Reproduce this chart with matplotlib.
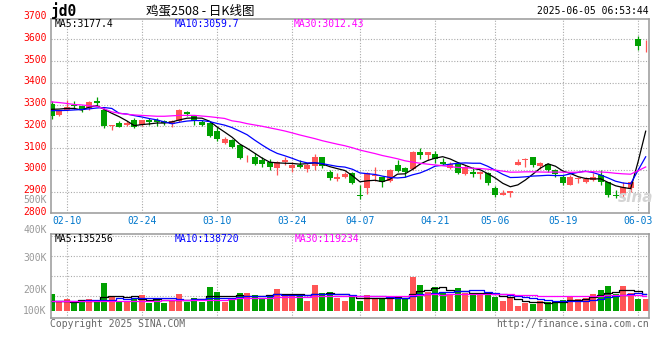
import numpy as np
import pandas as pd
import matplotlib
matplotlib.use("Agg")
import matplotlib.pyplot as plt
from matplotlib.transforms import blended_transform_factory

# ---- data (jd2508) ----
opens = [3304, 3250, 3273, 3299, 3292, 3284, 3315, 3277, 3200, 3215,
         3204, 3227, 3207, 3230, 3227, 3226, 3212, 3223, 3266, 3246,
         3220, 3215, 3177, 3123, 3135, 3112, 3052, 3061, 3046, 3038,
         3006, 3034, 3006, 3023, 3003, 3018, 3058, 2992, 2957, 2969,
         2985, 2880, 2916, 2972, 2965, 2949, 3020, 3008, 3003, 3080,
         3066, 3074, 3038, 3008, 3026, 2980, 2992, 2980, 2985, 2916,
         2885, 2893, 3023, 3046, 3057, 3018, 3026, 3000, 2965, 2928,
         2956, 2946, 2954, 2977, 2943, 2885, 2882, 2916, 3600, 3576]
highs = [3315, 3273, 3322, 3318, 3294, 3315, 3333, 3284, 3207, 3223,
         3222, 3238, 3231, 3238, 3236, 3230, 3230, 3278, 3272, 3250,
         3230, 3222, 3195, 3149, 3141, 3115, 3066, 3077, 3057, 3049,
         3040, 3061, 3038, 3046, 3031, 3074, 3061, 3000, 2985, 2992,
         2992, 2930, 2992, 3011, 2969, 3005, 3043, 3015, 3085, 3100,
         3082, 3088, 3054, 3038, 3034, 3020, 3011, 2995, 2992, 2926,
         2905, 2904, 3049, 3054, 3058, 3035, 3031, 3005, 2977, 2977,
         2969, 2969, 2985, 2997, 2946, 2908, 2946, 2949, 3615, 3597]
lows = [3235, 3246, 3268, 3281, 3266, 3277, 3292, 3192, 3184, 3197,
        3200, 3192, 3200, 3207, 3203, 3207, 3197, 3218, 3246, 3205,
        3200, 3150, 3131, 3118, 3100, 3051, 3034, 3020, 3015, 3000,
        2974, 3023, 2988, 3008, 2988, 3000, 3008, 2951, 2949, 2962,
        2934, 2867, 2888, 2949, 2919, 2946, 2988, 2965, 3000, 3049,
        3046, 3031, 3020, 3005, 2980, 2977, 2965, 2958, 2928, 2877,
        2883, 2873, 3022, 3015, 3015, 3005, 2992, 2969, 2928, 2928,
        2939, 2939, 2949, 2931, 2873, 2869, 2877, 2900, 3551, 3543]
closes = [3246, 3269, 3290, 3292, 3277, 3310, 3306, 3203, 3203, 3197,
          3215, 3197, 3227, 3218, 3218, 3214, 3223, 3273, 3257, 3224,
          3208, 3154, 3141, 3141, 3104, 3054, 3054, 3028, 3028, 3011,
          3038, 3046, 3023, 3011, 3023, 3058, 3018, 2962, 2965, 2980,
          2939, 2878, 2985, 2977, 2946, 2997, 2995, 2992, 3080, 3066,
          3080, 3049, 3026, 3028, 2985, 3015, 2980, 2992, 2939, 2885,
          2893, 2901, 3035, 3051, 3020, 3031, 3000, 2980, 2939, 2965,
          2958, 2958, 2969, 2943, 2882, 2880, 2919, 2942, 3569, 3577]
# volume in K, on the panel's grid scale
volumes = [208, 173, 183, 165, 170, 183, 173, 263, 192, 170,
           173, 190, 203, 165, 178, 165, 178, 208, 170, 190,
           170, 245, 220, 170, 178, 215, 215, 203, 190, 198,
           235, 210, 198, 203, 173, 253, 215, 218, 187, 173,
           198, 173, 203, 183, 183, 190, 198, 183, 295, 253,
           220, 243, 212, 203, 238, 212, 203, 203, 220, 195,
           173, 187, 150, 165, 158, 173, 170, 165, 178, 200,
           183, 187, 208, 228, 248, 208, 248, 215, 185, 185]

# moving average values before the window is full
ma5_head = [3278, 3279, 3282, 3282]
ma10_head = [3272, 3272, 3273, 3275, 3277, 3280, 3284, 3286, 3282]
ma30_head = [3312, 3309, 3305, 3300, 3298, 3294, 3292, 3280, 3266, 3260,
             3255, 3252, 3250, 3248, 3246, 3246, 3248, 3250, 3250, 3250,
             3247, 3244, 3240, 3236, 3225, 3220, 3212, 3206, 3200]
vma5_head = [175, 175, 173, 170]
vma10_head = [173, 173, 173, 173, 173, 176, 177, 178, 178]
vma30_head = [173, 173, 173, 173, 173, 173, 173, 173, 173, 173,
              173, 175, 175, 175, 175, 177, 177, 177, 177, 177,
              180, 180, 180, 180, 185, 186, 187, 188, 189]

date_idx = [2, 12, 22, 32, 41, 51, 59, 68, 78]
date_lbl = ["02-10", "02-24", "03-10", "03-24", "04-07", "04-21", "05-06", "05-19", "06-03"]
price_ticks = [2800, 2900, 3000, 3100, 3200, 3300, 3400, 3500, 3600, 3700]

W, H = 660, 360
RED = "#ff5555"
GREEN = "#00a000"
GRID = "#aaaaaa"
FRAME = "#999999"
MONO = "DejaVu Sans Mono"


def ma(vals, n, head):
    full = pd.Series(vals, dtype=float).rolling(n).mean().to_numpy()
    full[:len(head)] = head
    return full


def fx(x):
    return x / W


def fy(y):
    return 1 - y / H


x = np.arange(len(closes))
o = np.array(opens, float)
c = np.array(closes, float)
up = c >= o
cols = np.where(up, RED, GREEN)

fig = plt.figure(figsize=(W / 100, H / 100), dpi=100)
ax = fig.add_axes([fx(50.7), fy(213.3), fx(649.3) - fx(50.7), fy(19) - fy(213.3)])
ax2 = fig.add_axes([fx(50.7), fy(318.3), fx(649.3) - fx(50.7), fy(234.3) - fy(318.3)])

for a in (ax, ax2):
    a.set_xlim(-0.12, 79.48)
    a.set_xticks([])
    a.set_yticks([])
    for s in a.spines.values():
        s.set_color(FRAME)
        s.set_linewidth(1.1)
    for d in date_idx:
        a.axvline(d, color=GRID, lw=0.8, ls=(0, (1, 1.5)), zorder=0)

# price panel
ax.set_ylim(2800, 3693)
for p in price_ticks[1:-1]:
    ax.axhline(p, color=GRID, lw=0.8, ls=(0, (1, 1.5)), zorder=0)
ax.vlines(x, lows, highs, colors=cols, lw=0.9, zorder=2)
ax.bar(x, np.maximum(np.abs(c - o), 4), bottom=np.minimum(o, c), width=0.8,
       color=cols, linewidth=0, zorder=3)
ax.plot(x, ma(closes, 5, ma5_head), color="black", lw=0.9, zorder=4)
ax.plot(x, ma(closes, 10, ma10_head), color="#0000ff", lw=0.9, zorder=4)
ax.plot(x, ma(closes, 30, ma30_head), color="#ff00ff", lw=0.9, zorder=4)

# volume panel
vbase = 123.3
ax2.set_ylim(86.7, 506.7)
for v in [200, 300, 400, 500]:
    ax2.axhline(v, color=GRID, lw=0.8, ls=(0, (1, 1.5)), zorder=0)
vv = np.array(volumes, float)
ax2.bar(x, vv - vbase, bottom=vbase, width=0.8, color=cols, linewidth=0, zorder=2)
ax2.plot(x, ma(volumes, 5, vma5_head), color="black", lw=0.9, drawstyle="steps-mid", zorder=3)
ax2.plot(x, ma(volumes, 10, vma10_head), color="#0000ff", lw=0.9, drawstyle="steps-mid", zorder=3)
ax2.plot(x, ma(volumes, 30, vma30_head), color="#ff00ff", lw=0.9, drawstyle="steps-mid", zorder=3)

# axis labels
tr = blended_transform_factory(fig.transFigure, ax.transData)
for p in price_ticks:
    ax.text(fx(46.5), p + 6, str(p), transform=tr, ha="right", va="center",
            color="#ff0000", fontsize=7, family=MONO, clip_on=False)
for lbl, yy in [("500K", 200), ("400K", 230), ("300K", 258), ("200K", 290), ("100K", 311)]:
    fig.text(fx(46.5), fy(yy), lbl, ha="right", va="center", color=FRAME,
             fontsize=7, family=MONO)
trd = blended_transform_factory(ax.transData, fig.transFigure)
for d, lbl in zip(date_idx, date_lbl):
    ax.text(d, fy(221.5), lbl, transform=trd, ha="center", va="center",
            color="#0077cc", fontsize=7, family=MONO, clip_on=False)

# header and legends
fig.text(fx(50.5), fy(11), "jd0", ha="left", va="center", fontsize=10.5,
         family=MONO, weight="bold", color="black")
fig.text(fx(200), fy(10.5), "鸡蛋2508 - 日K线图", ha="center", va="center",
         fontsize=9, family=["Noto Sans CJK SC", "DejaVu Sans"], color="black")
fig.text(fx(648.5), fy(11.5), "2025-06-05 06:53:44", ha="right", va="center",
         fontsize=7, family=MONO, color="black")
for txt, xx, col in [("MA5:3177.4", 54.3, "black"), ("MA10:3059.7", 174.3, "#0000ff"),
                     ("MA30:3012.43", 294, "#ff00ff")]:
    fig.text(fx(xx), fy(24), txt, ha="left", va="center", fontsize=7, family=MONO, color=col)
for txt, xx, col in [("MA5:135256", 54.7, "black"), ("MA10:138720", 174.7, "#0000ff"),
                     ("MA30:119234", 294.7, "#ff00ff")]:
    fig.text(fx(xx), fy(238.5), txt, ha="left", va="center", fontsize=7, family=MONO, color=col)

fig.text(fx(50), fy(323.7), "Copyright 2025 SINA.COM", ha="left", va="center",
         fontsize=7, family=MONO, color="#666666")
fig.text(fx(649), fy(323.7), "http://finance.sina.com.cn", ha="right", va="center",
         fontsize=7, family=MONO, color="#666666")
fig.text(fx(636), fy(197), "sina", ha="center", va="center", fontsize=11,
         style="italic", weight="bold", color="#d4d4d4", zorder=0)

fig.savefig("out.png", dpi=100, facecolor="white")
